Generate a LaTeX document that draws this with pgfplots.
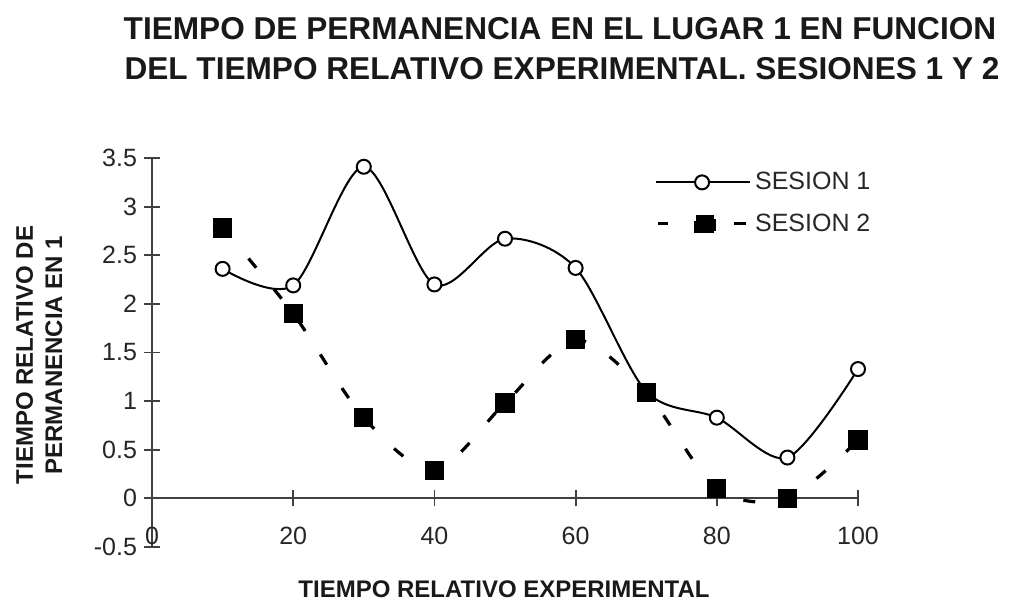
\documentclass[border=0pt]{standalone}
\usepackage{fontspec}
\setmainfont{Liberation Sans}
\usepackage{pgfplots}
\pgfplotsset{compat=1.18}
\begin{document}
\begin{tikzpicture}[x=0.5pt,y=0.5pt]
\useasboundingbox (0,0) rectangle (1010,601);
\begin{axis}[
  at={(76pt,27pt)}, anchor=south west,
  width=353pt, height=194.5pt, scale only axis,
  xmin=0, xmax=100, ymin=-0.5, ymax=3.5,
  axis x line=middle, axis y line=left,
  axis line style={-, line width=0.9pt, black!75},
  xtick={0,20,40,60,80,100},
  xticklabels={0,20,40,60,80,100},
  ytick={-0.5,0,0.5,1,1.5,2,2.5,3,3.5},
  yticklabels={-0.5,0,0.5,1,1.5,2,2.5,3,3.5},
  hide obscured x ticks=false, hide obscured y ticks=false,
  tick align=center, major tick length=8pt,
  tick style={line width=0.9pt, black!75},
  ticklabel style={font=\fontsize{12.5}{14}\selectfont, text=black!85},
  xticklabel style={yshift=-7pt},
  /pgf/number format/assume math mode=true,
  clip=false,
  legend style={draw=none, fill=none, at={(0.712,0.975)}, anchor=north west,
    font=\fontsize{12.5}{14}\selectfont, row sep=6.5pt, inner sep=0pt,
    nodes={text=black!85}},
  legend cell align=left,
]
\addplot[black, line width=1pt, smooth, tension=0.5, mark=*, mark size=3.5pt,
  mark options={fill=white, line width=1pt, solid},
  legend image code/.code={\draw[black, line width=1pt] (0pt,0)--(47pt,0);
    \draw[black, fill=white, line width=1pt] (23pt,0) circle (3.5pt);}]
coordinates {(10,2.36) (20,2.19) (30,3.41) (40,2.2) (50,2.67) (60,2.37) (70,1.1) (80,0.83) (90,0.42) (100,1.33)};
\addlegendentry{SESION 1}
\addplot[black, line width=1.6pt, smooth, tension=0.5, dash pattern=on 6pt off 14pt,
  mark=square*, mark size=4pt, mark options={solid},
  legend image code/.code={\draw[black, line width=1.6pt] (1pt,0)--(6pt,0) (39pt,0)--(45pt,0);
    \fill[black] (20pt,-4.5pt) rectangle (29pt,4.5pt);}]
coordinates {(10,2.78) (20,1.9) (30,0.83) (40,0.29) (50,0.98) (60,1.63) (70,1.09) (80,0.1) (90,0.0) (100,0.6)};
\addlegendentry{SESION 2}
\end{axis}
\node[anchor=base, font=\fontsize{15.8}{18}\bfseries, text=black!90] at (560,561) {TIEMPO DE PERMANENCIA EN EL LUGAR 1 EN FUNCION};
\node[anchor=base, font=\fontsize{15.8}{18}\bfseries, text=black!90] at (562,521) {DEL TIEMPO RELATIVO EXPERIMENTAL. SESIONES 1 Y 2};
\node[anchor=base, font=\fontsize{12}{14}\bfseries, text=black!90] at (504,4) {TIEMPO RELATIVO EXPERIMENTAL};
\node[anchor=base, rotate=90, font=\fontsize{12}{14}\bfseries, text=black!90] at (33,246) {TIEMPO RELATIVO DE};
\node[anchor=base, rotate=90, font=\fontsize{12}{14}\bfseries, text=black!90] at (62,246) {PERMANENCIA EN 1};
\end{tikzpicture}
\end{document}
